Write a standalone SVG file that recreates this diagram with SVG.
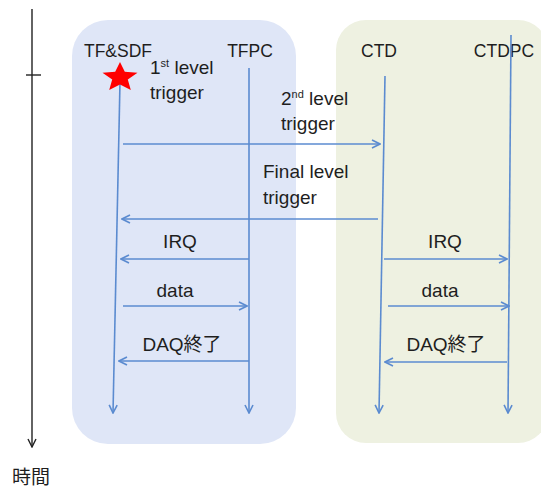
<svg xmlns="http://www.w3.org/2000/svg" width="541" height="489" viewBox="0 0 541 489">
<defs>
<style>
.t{font-family:"Liberation Sans",Arial,sans-serif;font-size:19px;fill:#1e1e1e}
.h{font-family:"Liberation Sans",Arial,sans-serif;font-size:17.5px;fill:#1e1e1e}
.j{font-family:"Liberation Sans","Noto Sans CJK JP",sans-serif;font-size:19px;fill:#1e1e1e}
.sup{font-size:11px}
.msg{stroke:#5b8bd0;stroke-width:1.6;fill:none;marker-end:url(#ah)}
.life{stroke:#5b8bd0;stroke-width:1.6;fill:none;marker-end:url(#ah)}
</style>
<marker id="ah" viewBox="0 0 10 10" refX="9" refY="5" markerWidth="10" markerHeight="10" markerUnits="userSpaceOnUse" orient="auto">
<path d="M1,1 L9,5 L1,9" fill="none" stroke="#5b8bd0" stroke-width="1.6"/>
</marker>
<marker id="ahk" viewBox="0 0 10 10" refX="9" refY="5" markerWidth="10" markerHeight="10" markerUnits="userSpaceOnUse" orient="auto">
<path d="M1,1 L9,5 L1,9" fill="none" stroke="#222" stroke-width="1.4"/>
</marker>
</defs>
<rect width="541" height="489" fill="#ffffff"/>
<g id="groups">
<rect id="box-tf" x="72" y="20" width="224" height="424" rx="36" fill="#dfe6f7"/>
<rect id="box-ctd" x="336" y="20" width="212" height="423" rx="30" fill="#eef1e1"/>
</g>
<g id="time-axis">
<line x1="32" y1="9" x2="32" y2="447" stroke="#222" stroke-width="1.4" marker-end="url(#ahk)"/>
<line x1="26" y1="75" x2="41" y2="75" stroke="#222" stroke-width="1.4"/>
<text class="j" x="12" y="484">時間</text>
</g>
<g id="node-tfsdf">
<text class="h" x="118" y="57" text-anchor="middle">TF&amp;SDF</text>
</g>
<g id="node-tfpc">
<text class="h" x="250" y="57" text-anchor="middle">TFPC</text>
</g>
<g id="node-ctd">
<text class="h" x="379" y="57" text-anchor="middle">CTD</text>
</g>
<g id="node-ctdpc">
<text class="h" x="504" y="57" text-anchor="middle">CTDPC</text>
</g>
<g id="connectors">
<line class="life" x1="120" y1="82" x2="113" y2="413"/>
<line class="life" x1="249" y1="68" x2="249" y2="413"/>
<line class="life" x1="385" y1="76" x2="379" y2="413"/>
<line class="life" x1="511" y1="35" x2="508" y2="413"/>
<line class="msg" x1="123" y1="144" x2="380" y2="144"/>
<line class="msg" x1="378" y1="219" x2="122" y2="219"/>
<line class="msg" x1="249" y1="259" x2="121" y2="259"/>
<line class="msg" x1="123" y1="306" x2="247" y2="306"/>
<line class="msg" x1="249" y1="361" x2="119" y2="361"/>
<line class="msg" x1="384" y1="259" x2="507" y2="259"/>
<line class="msg" x1="388" y1="306" x2="509" y2="306"/>
<line class="msg" x1="507" y1="362" x2="385" y2="362"/>
</g>
<g id="star">
<polygon points="120,62 124.8,71.8 137.5,72.7 127.8,79.6 130.8,90 120,84.5 109.2,90 112.2,79.6 102.5,72.7 115.2,71.8" fill="#ff0000"/>
</g>
<g id="labels">
<text class="t" x="150" y="74">1<tspan class="sup" dy="-7">st</tspan><tspan dy="7"> level</tspan></text>
<text class="t" x="150" y="99">trigger</text>
<text class="t" x="281" y="105">2<tspan class="sup" dy="-7">nd</tspan><tspan dy="7"> level</tspan></text>
<text class="t" x="281" y="130">trigger</text>
<text class="t" x="263" y="178">Final level</text>
<text class="t" x="263" y="204">trigger</text>
<text class="t" x="180" y="248" text-anchor="middle">IRQ</text>
<text class="t" x="175" y="297" text-anchor="middle">data</text>
<text class="j" x="182" y="351" text-anchor="middle">DAQ終了</text>
<text class="t" x="445" y="248" text-anchor="middle">IRQ</text>
<text class="t" x="440" y="297" text-anchor="middle">data</text>
<text class="j" x="446" y="351" text-anchor="middle">DAQ終了</text>
</g>
</svg>
